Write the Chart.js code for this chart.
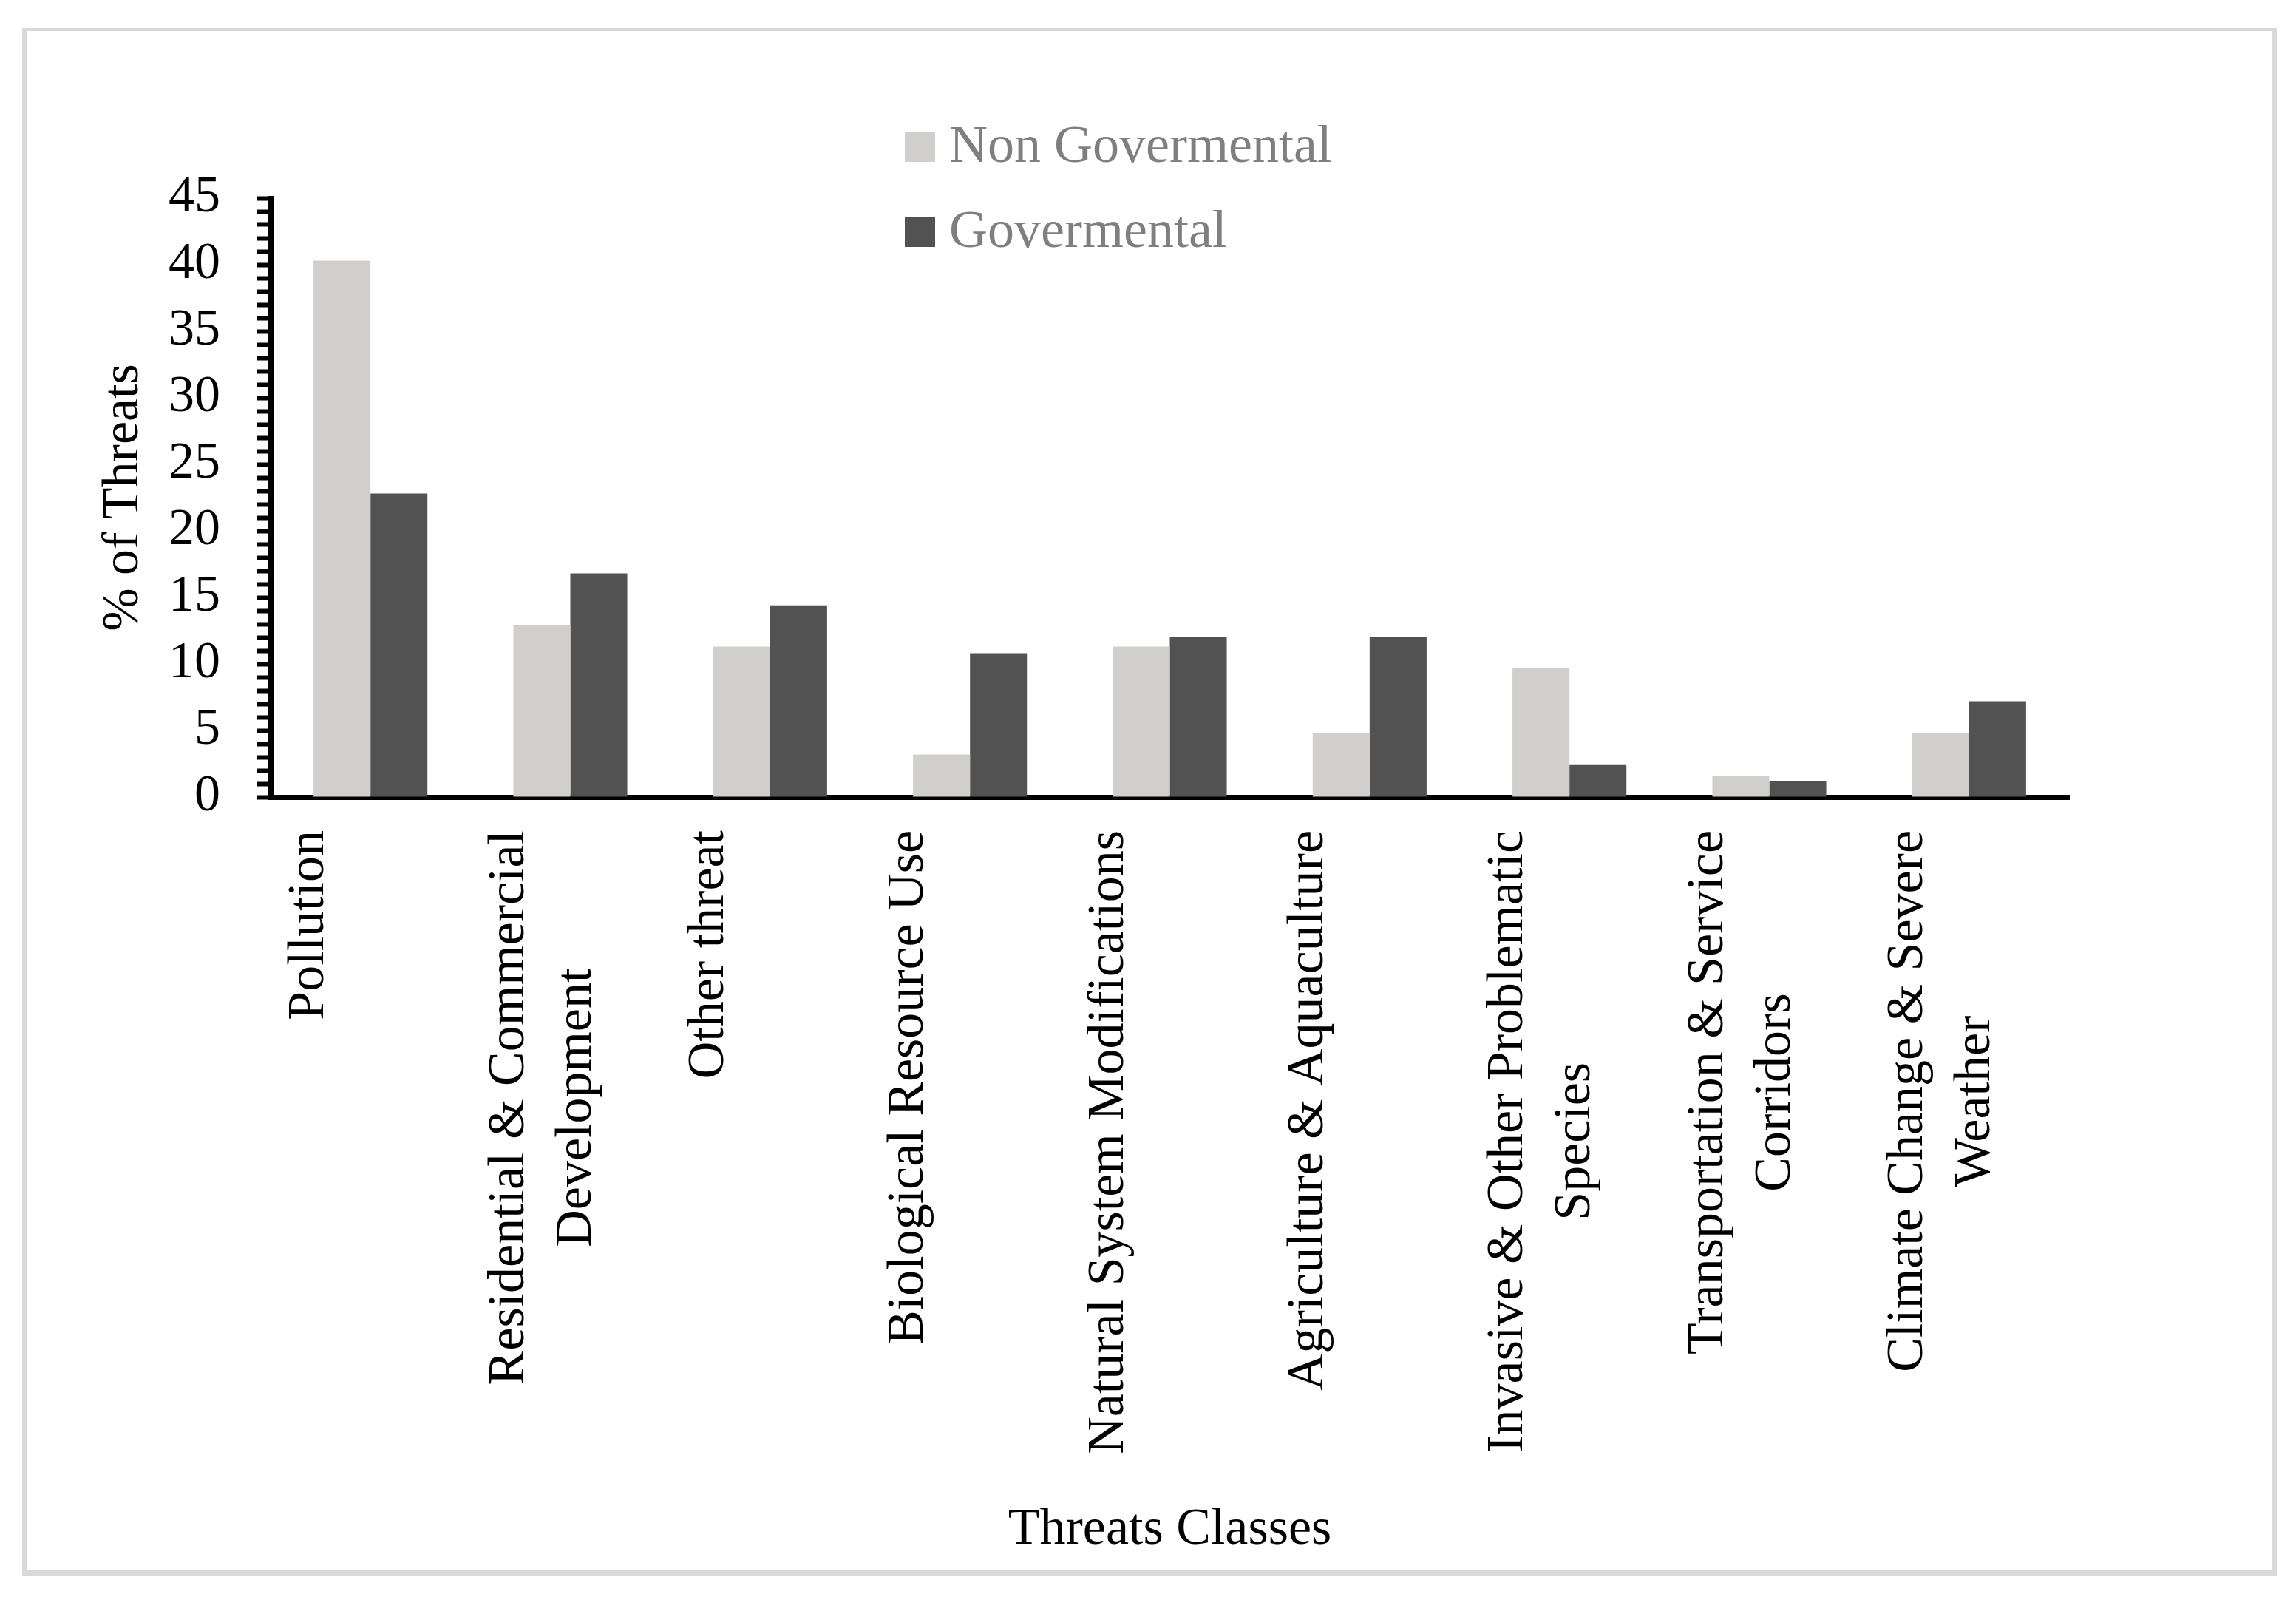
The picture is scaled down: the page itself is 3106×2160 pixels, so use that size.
<!DOCTYPE html>
<html>
<head>
<meta charset="utf-8">
<script src="https://cdn.jsdelivr.net/npm/chart.js@4.4.1/dist/chart.umd.min.js"></script>
<style>
    body { margin: 0; background: #ffffff; }
    #frame {
        position: absolute; left: 30px; top: 38px; width: 3050px; height: 2093px;
        box-sizing: border-box; border-style: solid; border-color: #d9d9d9;
        border-width: 4px 7px 7px 7px;
    }
    #chart { position: absolute; left: 0; top: 0; }
</style>
</head>
<body>
<div id="frame"></div>
<canvas id="chart" width="3106" height="2160" style="width:3106px;height:2160px"></canvas>
<script>
// categories (multi-line where the original wraps)
var threatClasses = [
    ['Pollution'],
    ['Residential & Commercial', 'Development'],
    ['Other threat'],
    ['Biological Resource Use'],
    ['Natural System Modifications'],
    ['Agriculture & Aquaculture'],
    ['Invasive & Other Problematic', 'Species'],
    ['Transportation & Service', 'Corridors'],
    ['Climate Change & Severe', 'Weather']
];
var nonGovermental = [40.3, 12.9, 11.3, 3.2, 11.3, 4.8, 9.7, 1.6, 4.8];
var govermental = [22.8, 16.8, 14.4, 10.8, 12.0, 12.0, 2.4, 1.2, 7.2];
var yMin = 0, yMax = 45, yMajorStep = 5;

var serif = "'Liberation Serif', 'Times New Roman', serif";

// rotated category labels, lines centred on the first line
const categoryLabels = {
    id: 'categoryLabels',
    afterDraw(chart) {
        const ctx = chart.ctx;
        const xScale = chart.scales.x;
        ctx.save();
        ctx.font = '70px ' + serif;
        ctx.fillStyle = '#000000';
        ctx.textAlign = 'center';
        ctx.textBaseline = 'alphabetic';
        chart.data.labels.forEach((lines, i) => {
            const c = xScale.getPixelForValue(i);
            let w = 0;
            lines.forEach(l => { w = Math.max(w, ctx.measureText(l).width); });
            const yc = xScale.top + 45 + w / 2;
            lines.forEach((l, k) => {
                ctx.save();
                ctx.translate(c - 64 + k * 91, yc);
                ctx.rotate(-Math.PI / 2);
                ctx.fillText(l, 0, 0);
                ctx.restore();
            });
        });
        ctx.restore();
    }
};

// legend stacked in a column, above the middle of the plot
const stackedLegend = {
    id: 'stackedLegend',
    afterDraw(chart) {
        const ctx = chart.ctx;
        ctx.save();
        ctx.font = '72px ' + serif;
        ctx.textBaseline = 'middle';
        ctx.textAlign = 'left';
        chart.data.datasets.forEach((ds, i) => {
            const y = 198 + i * 115;
            ctx.fillStyle = ds.backgroundColor;
            ctx.fillRect(1224, y - 20, 41, 41);
            ctx.fillStyle = '#7f7f7f';
            ctx.fillText(ds.label, 1284, y + 2);
        });
        ctx.restore();
    }
};

const ctx = document.getElementById('chart').getContext('2d');
const myChart = new Chart(ctx, {
    type: 'bar',
    data: {
        labels: threatClasses,
        datasets: [{
            label: 'Non Govermental',
            data: nonGovermental,
            backgroundColor: '#d0cfcd',
            barPercentage: 1,
            categoryPercentage: 0.57
        }, {
            label: 'Govermental',
            data: govermental,
            backgroundColor: '#525252',
            barPercentage: 1,
            categoryPercentage: 0.57
        }]
    },
    options: {
        responsive: false,
        animation: false,
        devicePixelRatio: 1,
        layout: { padding: { left: 126, right: 307, top: 268, bottom: 48 } },
        plugins: {
            legend: { display: false },
            tooltip: { enabled: false }
        },
        scales: {
            x: {
                grid: { display: false },
                border: { display: true, color: '#000000', width: 7 },
                ticks: { display: false },
                title: {
                    display: true,
                    text: 'Threats Classes',
                    color: '#000000',
                    font: { family: serif, size: 70, lineHeight: 1.2 },
                    padding: 0
                },
                afterFit: function (scale) { scale.height = 1034; }
            },
            y: {
                min: yMin,
                max: yMax,
                grid: {
                    display: true,
                    drawOnChartArea: false,
                    drawTicks: true,
                    tickLength: 18,
                    tickWidth: 6,
                    tickColor: '#000000'
                },
                border: { display: true, color: '#000000', width: 7 },
                ticks: {
                    stepSize: 1,
                    autoSkip: false,
                    padding: 50,
                    color: '#000000',
                    font: { family: serif, size: 70 },
                    callback: function (value) {
                        return value % yMajorStep === 0 ? value : '';
                    }
                },
                title: {
                    display: true,
                    text: '% of Threats',
                    color: '#000000',
                    font: { family: serif, size: 70, lineHeight: 1.2 },
                    padding: 0
                },
                afterFit: function (scale) { scale.width = 240; }
            }
        }
    },
    plugins: [categoryLabels, stackedLegend]
});
</script>
</body>
</html>
